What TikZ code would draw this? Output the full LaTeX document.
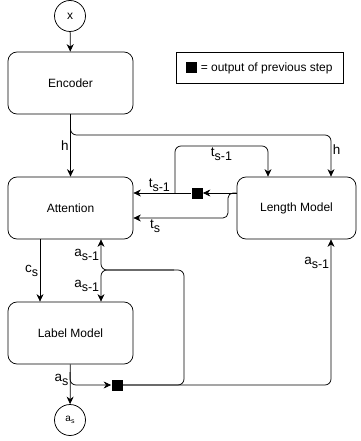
\documentclass[tikz,border=0pt]{standalone}
\usepackage{fontspec}
\setmainfont{Liberation Sans}
\usetikzlibrary{arrows.meta}

\newcommand{\lsub}[2]{#1\raisebox{-4pt}{\fontsize{12.5}{12.5}\selectfont #2}}

\begin{document}
\begin{tikzpicture}[
            x=1pt, y=-1pt,
            line width=0.75pt,
            >={Stealth[length=7.5pt,width=7pt]},
            every node/.style={inner sep=2pt},
            block/.style={draw, rounded corners=9pt, minimum width=125pt, minimum height=62pt, font=\fontsize{12}{14}\selectfont},
            io/.style={draw, circle, minimum size=31pt, inner sep=0pt, font=\fontsize{12}{14}\selectfont},
            prev/.style={fill=black, minimum size=11pt, inner sep=0pt},
            lbl/.style={font=\fontsize{13.5}{15}\selectfont, inner sep=1.5pt}
        ]
        \useasboundingbox (0,0) rectangle (360,441);
        % blocks
        \node[io] (x) at (70,16) {x};
        \node[block] (enc) at (70.5,83) {Encoder};
        \node[block] (att) at (70.5,208) {Attention};
        \node[block] (lab) at (70.5,333) {Label Model};
        \node[block, minimum width=119pt] (len) at (296.5,208) {Length Model};
        \node[io] (as) at (70,420) {\fontsize{10}{10}\selectfont a\raisebox{-2pt}{\fontsize{7}{7}\selectfont s}};
        \node[draw, minimum width=167pt, minimum height=31pt, font=\fontsize{12}{14}\selectfont] (key) at (259.5,67.5)
            {\rule[-1.5pt]{11pt}{11pt} = output of previous step};
        \node[prev] (sqA) at (197,193) {};
        \node[prev] (sqB) at (117,385) {};
        % bends
        \coordinate (hR) at (331,135);
        \coordinate (tL) at (175,193);
        \coordinate (tT) at (268,146);
        \coordinate (tS) at (228,218);
        \coordinate (cS) at (40,300);
        \coordinate (aL) at (101,270);
        \coordinate (aR) at (184,270);
        \coordinate (aS) at (70,372);
        % encoder output
        \draw[->] (x) -- (enc);
        \draw[->] (enc) -- node[lbl,left]{h} (att);
        \draw[->,rounded corners=6pt] (enc.south) |- (hR) -- (hR |- len.north);
        \path (hR) -- node[lbl,right,pos=0.35]{h} (hR |- len.north);
        % length model
        \draw[->] (len.west |- sqA) -- (sqA);
        \draw[->] (sqA) -- node[lbl,above,pos=0.55]{\lsub{t}{s-1}} (att.east |- sqA);
        \draw[->,rounded corners=6pt] (tL) |- (tT) -- (tT |- len.north);
        \path (tL |- tT) -- node[lbl,below]{\lsub{t}{s-1}} (tT);
        \draw[->,rounded corners=5pt] (len.west |- sqA) -| (tS) -- (att.east |- tS);
        \path (tS) -- node[lbl,below,pos=0.77]{\lsub{t}{s}} (att.east |- tS);
        % label model
        \draw[->] (att.south -| cS) -- node[lbl,left]{\lsub{c}{s}} (lab.north -| cS);
        \draw[->] (lab) -- node[lbl,left,pos=0.4]{\lsub{a}{s}} (as);
        \draw[->,rounded corners=6pt] (aS) |- (sqB);
        \draw[->,rounded corners=6pt] (sqB) -| (len.south -| hR);
        \path (hR |- sqB) -- node[lbl,left,pos=0.84]{\lsub{a}{s-1}} (hR |- len.south);
        \draw[->,rounded corners=6pt] (sqB) -| (aR) -| (att.south -| aL);
        \draw[->,rounded corners=6pt] ([xshift=-10pt]aR) -| (lab.north -| aL);
        \path (att.south -| aL) -- node[lbl,left]{\lsub{a}{s-1}} (aL);
        \path (aL) -- node[lbl,left]{\lsub{a}{s-1}} (lab.north -| aL);
        \end{tikzpicture}
\end{document}
